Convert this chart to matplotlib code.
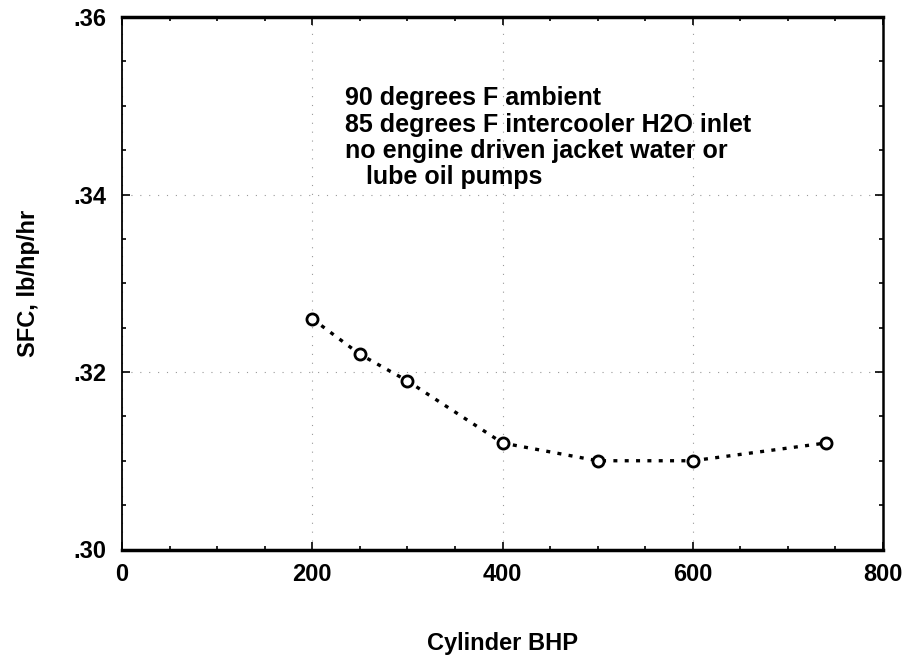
import matplotlib
matplotlib.use("Agg")
import matplotlib.pyplot as plt
from matplotlib.ticker import FuncFormatter, MultipleLocator

# Data
bhp = [200, 250, 300, 400, 500, 600, 740]
sfc = [0.326, 0.322, 0.319, 0.312, 0.310, 0.310, 0.312]
x_ticks = [0, 200, 400, 600, 800]
y_ticks = [0.30, 0.32, 0.34, 0.36]
notes = ["90 degrees F ambient",
         "85 degrees F intercooler H2O inlet",
         "no engine driven jacket water or",
         "   lube oil pumps"]

plt.rcParams['font.family'] = ['Liberation Sans', 'DejaVu Sans']

fig = plt.figure(figsize=(9.11, 6.67), dpi=100)
ax = fig.add_axes([122/911, 1-549.5/667, (883-122)/911, (549.5-17)/667])

ax.plot(bhp, sfc, linestyle=(0, (1.2, 2.2)), color='black', linewidth=2.4,
        marker='o', markersize=8, markerfacecolor='white',
        markeredgecolor='black', markeredgewidth=2.0, zorder=3)

ax.set_xlim(0, 800)
ax.set_ylim(0.30, 0.36)
ax.set_xticks(x_ticks)
ax.set_yticks(y_ticks)
ax.xaxis.set_minor_locator(MultipleLocator(50))
ax.yaxis.set_minor_locator(MultipleLocator(0.005))
ax.yaxis.set_major_formatter(FuncFormatter(lambda v, p: ("%.2f" % v).lstrip('0')))

ax.tick_params(which='both', direction='in', top=True, right=True, width=1.2)
ax.tick_params(which='major', length=6)
ax.tick_params(which='minor', length=3)
ax.tick_params(axis='x', which='major', pad=10, labelsize=17)
ax.tick_params(axis='y', which='major', pad=11, labelsize=17)
for lab in ax.get_xticklabels() + ax.get_yticklabels():
    lab.set_fontweight('bold')

ax.grid(True, which='major', linestyle=(0, (1, 7)), color='#999999', linewidth=0.8)

ax.spines['top'].set_linewidth(2.5)
ax.spines['bottom'].set_linewidth(2.5)
ax.spines['left'].set_linewidth(1.3)
ax.spines['right'].set_linewidth(1.8)

ax.set_xlabel("Cylinder BHP", fontsize=17, fontweight='bold', labelpad=33)
ax.set_ylabel("SFC, lb/hp/hr", fontsize=17, fontweight='bold', labelpad=24)

ax.text(0.293, 0.870, "\n".join(notes), transform=ax.transAxes,
        fontsize=18, fontweight='bold', va='top', ha='left', linespacing=1.12)

fig.savefig("out.png", dpi=100)
